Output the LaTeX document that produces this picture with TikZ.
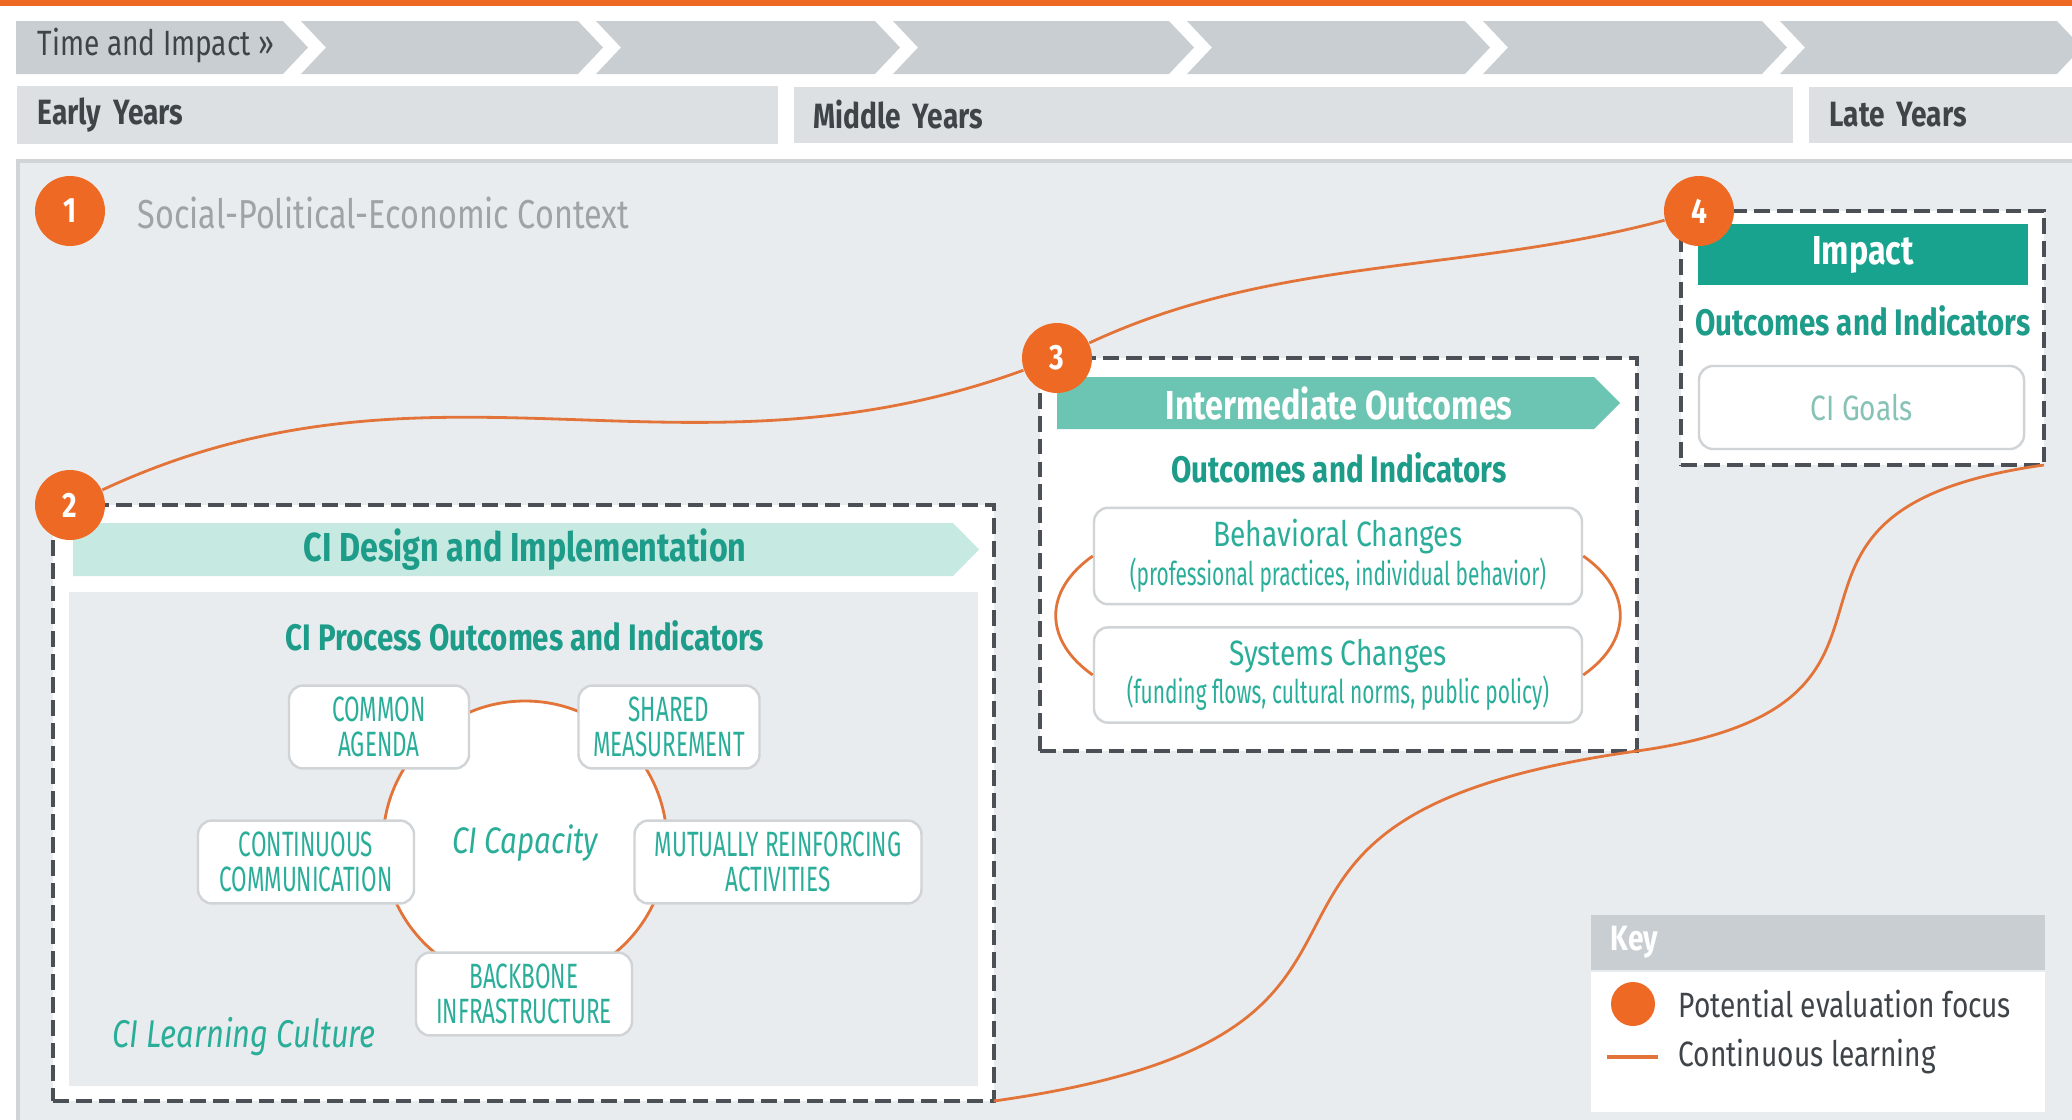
\documentclass[tikz,border=0pt]{standalone}
\usepackage{fontspec}
\setmainfont{Fira Sans}[FakeStretch=0.8]
\newfontfamily\condfont{Fira Sans}[FakeStretch=0.64]
\usepackage{xcolor}
\usepackage{tikz}
\usetikzlibrary{arrows.meta, positioning, calc}

\definecolor{ciorange}{HTML}{EE6A24}
\definecolor{cilearn}{HTML}{E2743A}
\definecolor{citeal}{HTML}{1E9C8A}
\definecolor{cilabel}{HTML}{2AAE99}
\definecolor{cigoal}{HTML}{86C2B6}
\definecolor{cibandlight}{HTML}{C6E9E1}
\definecolor{cibandmid}{HTML}{6CC5B2}
\definecolor{cibanddark}{HTML}{17A38D}
\definecolor{cigray}{HTML}{C9CED2}
\definecolor{ciyears}{HTML}{DDE0E3}
\definecolor{cibg}{HTML}{E9ECEE}
\definecolor{cidash}{HTML}{4B5056}
\definecolor{citext}{HTML}{3F4449}
\definecolor{cicontext}{HTML}{9EA3A7}
\definecolor{ciedge}{HTML}{D0D4D7}

\begin{document}
\begin{tikzpicture}[
  font=\fontsize{9.5}{11}\selectfont,
  years/.style={fill=ciyears, minimum height=0.56cm, anchor=west, inner xsep=0.21cm, align=left, text=citext, font=\bfseries\fontsize{10}{11}\selectfont},
  focus/.style={circle, fill=ciorange, minimum size=0.70cm, inner sep=0pt, text=white, font=\bfseries\fontsize{10}{12}\selectfont},
  dashbox/.style={draw=cidash, line width=1.1pt, dash pattern=on 4.5pt off 2pt, fill=white, inner sep=0pt, outer sep=0pt},
  box/.style={draw=ciedge, line width=0.7pt, rounded corners=4pt, fill=white, align=center},
  caps/.style={box, minimum height=0.81cm, text=cilabel, font=\condfont\fontsize{10}{9.8}\selectfont},
  change/.style={box, minimum width=4.88cm, minimum height=0.82cm, text=cilabel, font=\fontsize{10}{9.8}\selectfont},
  heading/.style={text=citeal, font=\bfseries\fontsize{10.5}{12}\selectfont},
  bandtext/.style={font=\bfseries\fontsize{11.5}{13}\selectfont},
  keytext/.style={anchor=west, inner sep=0pt, text=citext, font=\fontsize{10}{11}\selectfont},
  learn/.style={draw=cilearn, line width=0.8pt}
]
  \useasboundingbox (0,0) rectangle (20.72,-11.20);
  \fill[ciorange] (0,0) rectangle (20.72,-0.06);

  % time line
  \fill[cigray] (0.16,-0.21) -- (2.83,-0.21) -- (3.08,-0.475) -- (2.83,-0.74) -- (0.16,-0.74) -- cycle;
  \fill[cigray] (3.01,-0.21) -- (5.78,-0.21) -- (6.03,-0.475) -- (5.78,-0.74) -- (3.01,-0.74) -- (3.26,-0.475) -- cycle;
  \fill[cigray] (5.96,-0.21) -- (8.75,-0.21) -- (9.00,-0.475) -- (8.75,-0.74) -- (5.96,-0.74) -- (6.21,-0.475) -- cycle;
  \fill[cigray] (8.93,-0.21) -- (11.69,-0.21) -- (11.94,-0.475) -- (11.69,-0.74) -- (8.93,-0.74) -- (9.18,-0.475) -- cycle;
  \fill[cigray] (11.87,-0.21) -- (14.65,-0.21) -- (14.90,-0.475) -- (14.65,-0.74) -- (11.87,-0.74) -- (12.12,-0.475) -- cycle;
  \fill[cigray] (14.83,-0.21) -- (17.62,-0.21) -- (17.87,-0.475) -- (17.62,-0.74) -- (14.83,-0.74) -- (15.08,-0.475) -- cycle;
  \fill[cigray] (17.80,-0.21) -- (20.57,-0.21) -- (20.72,-0.37) -- (20.72,-0.58) -- (20.57,-0.74) -- (17.80,-0.74) -- (18.05,-0.475) -- cycle;
  \node[anchor=west, inner sep=0pt, text=citext, font=\fontsize{10}{12}\selectfont] (time) at (0.37,-0.46) {Time and Impact »};

  \node[years, text width=7.19cm] (early) at (0.16,-1.15) {Early Years};
  \node[years, text width=9.59cm, inner xsep=0.20cm] (middle) at (7.93,-1.15) {Middle Years};
  \node[years, text width=2.22cm] (late) at (18.08,-1.15) {Late Years};

  % context
  \fill[cibg] (0.18,-1.61) rectangle (20.72,-11.20);
  \draw[ciedge, line width=1pt] (0.18,-11.20) |- (20.72,-1.61);
  \node[focus] (c1) at (0.70,-2.11) {1};
  \node[anchor=west, inner sep=0pt, text=cicontext, font=\fontsize{11.5}{13}\selectfont] (context) at (1.37,-2.13) {Social-Political-Economic Context};

  % design and implementation
  \node[dashbox, minimum width=9.41cm, minimum height=5.96cm] (design) at (5.235,-8.03) {};
  \fill[cibandlight] (0.73,-5.23) -- (9.53,-5.23) -- (9.79,-5.495) -- (9.53,-5.76) -- (0.73,-5.76) -- cycle;
  \node[bandtext, text=citeal] (designhead) at (5.25,-5.495) {CI Design and Implementation};
  \fill[cibg] (0.69,-5.92) rectangle (9.78,-10.86);
  \node[heading] (process) at (5.25,-6.36) {CI Process Outcomes and Indicators};
  \node[circle, learn, fill=white, minimum size=2.84cm, text=cilabel, font=\itshape\fontsize{10.5}{12}\selectfont] (capacity) at (5.25,-8.43) {CI Capacity};
  \node[caps, minimum width=1.80cm] (agenda) at (3.79,-7.27) {COMMON\\AGENDA};
  \node[caps, minimum width=1.81cm] (measure) at (6.69,-7.27) {SHARED\\MEASUREMENT};
  \node[caps, minimum width=2.16cm] (communication) at (3.06,-8.62) {CONTINUOUS\\COMMUNICATION};
  \node[caps, minimum width=2.87cm] (activities) at (7.78,-8.62) {MUTUALLY REINFORCING\\ACTIVITIES};
  \node[caps, minimum width=2.16cm] (backbone) at (5.24,-9.94) {BACKBONE\\INFRASTRUCTURE};
  \node[text=cilabel, font=\itshape\fontsize{11}{12}\selectfont] (culture) at (2.44,-10.37) {CI Learning Culture};

  % intermediate outcomes
  \node[dashbox, minimum width=5.97cm, minimum height=3.93cm] (inter) at (13.385,-5.545) {};
  \fill[cibandmid] (10.57,-3.77) -- (15.94,-3.77) -- (16.20,-4.03) -- (15.94,-4.29) -- (10.57,-4.29) -- cycle;
  \node[bandtext, text=white] (interhead) at (13.39,-4.03) {Intermediate Outcomes};
  \node[heading] (interind) at (13.39,-4.68) {Outcomes and Indicators};
  \node[change] (behave) at (13.38,-5.56) {Behavioral Changes\\{\condfont\fontsize{9.3}{9.8}\selectfont (professional practices, individual behavior)}};
  \node[change] (systems) at (13.38,-6.75) {Systems Changes\\{\condfont\fontsize{9.3}{9.8}\selectfont (funding flows, cultural norms, public policy)}};

  % impact
  \node[dashbox, minimum width=3.63cm, minimum height=2.54cm] (impact) at (18.625,-3.38) {};
  \node[bandtext, fill=cibanddark, minimum width=3.30cm, minimum height=0.57cm, text=white] (impacthead) at (18.63,-2.545) {Impact};
  \node[heading] (impactind) at (18.63,-3.21) {Outcomes and Indicators};
  \node[box, minimum width=3.25cm, minimum height=0.83cm, text=cigoal, font=\fontsize{10}{12}\selectfont] (goals) at (18.615,-4.075) {CI Goals};

  \node[focus] (c2) at (0.70,-5.05) {2};
  \node[focus] (c3) at (10.57,-3.58) {3};
  \node[focus] (c4) at (16.99,-2.11) {4};

  % continuous learning
  \draw[learn] (c2) to[out=25, in=200] (c3);
  \draw[learn] (c3) to[out=25, in=195, looseness=0.9] (c4);
  \draw[learn] (design.south east) to[out=8, in=188, looseness=1.75] (inter.south east)
    to[out=8, in=188, looseness=1.75] (impact.south east);
  \draw[learn] (behave.west) to[out=215, in=145, looseness=1.3] (systems.west);
  \draw[learn] (behave.east) to[out=-35, in=35, looseness=1.3] (systems.east);

  % key
  \node[fill=cigray, anchor=north west, text width=4.14cm, minimum height=0.47cm, inner xsep=0.2cm, align=left, text=white, font=\bfseries\fontsize{10}{12}\selectfont] (keyhead) at (15.90,-9.14) {Key};
  \node[fill=white, anchor=north west, minimum width=4.54cm, minimum height=1.40cm] (keybody) at (keyhead.south west) {};
  \node[focus, minimum size=0.44cm] (keydot) at (16.33,-10.04) {};
  \node[keytext] (keyfocus) at (16.78,-10.04) {Potential evaluation focus};
  \coordinate (keyl) at (16.07,-10.57);
  \coordinate (keyr) at (16.58,-10.57);
  \draw[learn, line width=1.2pt] (keyl) -- (keyr);
  \node[keytext] (keylearn) at (16.78,-10.57) {Continuous learning};
\end{tikzpicture}
\end{document}
